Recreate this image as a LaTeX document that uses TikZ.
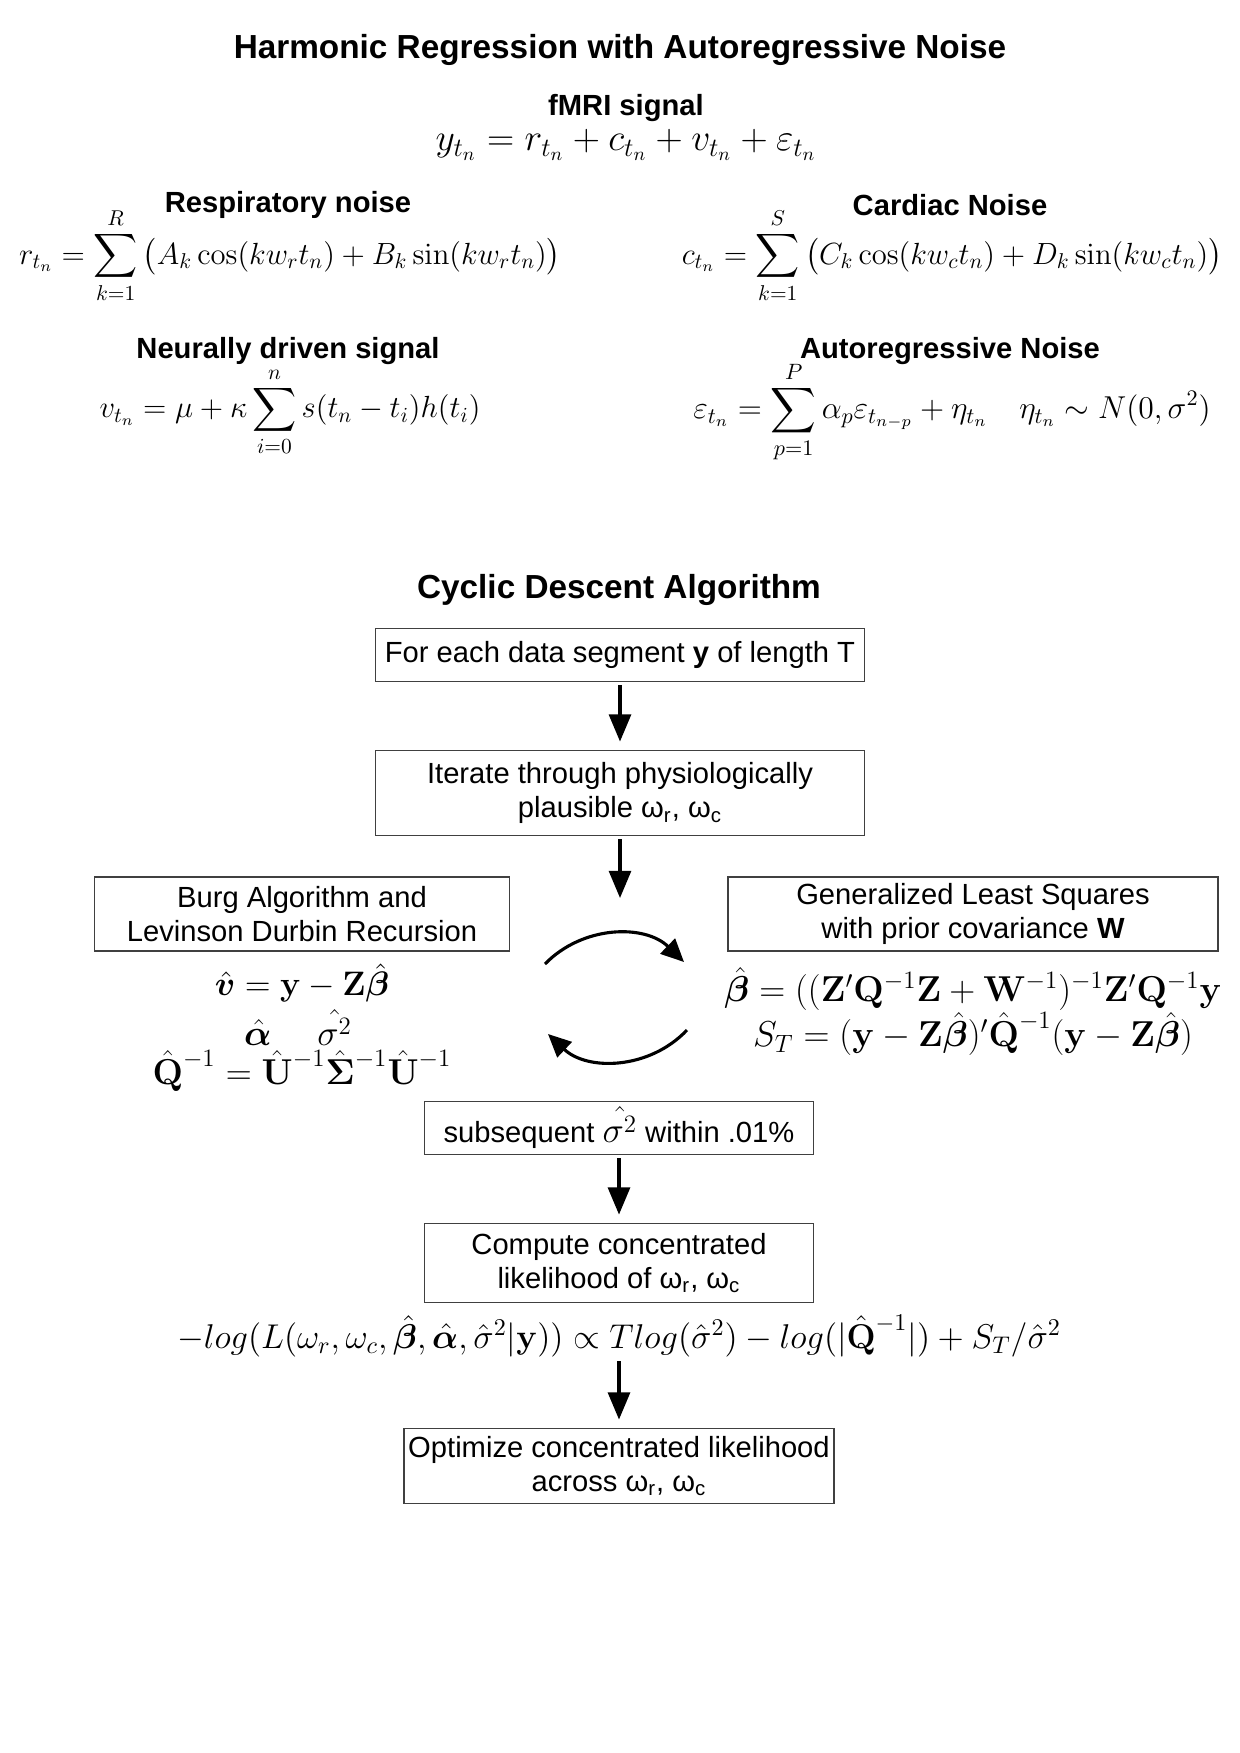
\RequirePackage{fix-cm}
\documentclass[tikz,border=0pt]{standalone}
\usepackage{amsmath,amssymb,bm}
\usepackage[no-math]{fontspec}
\setmainfont{Liberation Sans}
\usetikzlibrary{arrows.meta}

\newcommand{\wrc}{ω\textsubscript{r}, ω\textsubscript{c}}
\newcommand{\inv}{^{\raisebox{0.15em}{$\scriptstyle -1$}}}
\newcommand{\Qh}{\hat{\mathbf{Q}}}

\begin{document}
\begin{tikzpicture}[x=0.48pt,y=-0.48pt,
  head/.style={font=\fontsize{14}{17}\selectfont\bfseries},
  bighead/.style={font=\fontsize{16}{19}\selectfont\bfseries},
  eqn/.style={font=\fontsize{17.28}{20}\selectfont,inner sep=0pt},
  sumeqn/.style={font=\fontsize{14.7}{18}\selectfont,inner sep=0pt},
  stepbox/.style={draw=black!75,line width=0.6pt,align=center,font=\fontsize{14}{16.5}\selectfont,inner sep=2pt},
  flow/.style={-{Triangle[length=13pt,width=10.5pt]},line width=1.5pt},
  swap/.style={-{Triangle[length=11pt,width=10pt]},line width=1.5pt}]
  \useasboundingbox (0,0) rectangle (1240,1753);
  % modelo
  \node[bighead] (title) at (620,50) {Harmonic Regression with Autoregressive Noise};
  \node[head] (fmri) at (626,108) {fMRI signal};
  \node[eqn,font=\fontsize{18.1}{21}\selectfont] (yeq) at (626,145) {$y_{t_n} = r_{t_n} + c_{t_n} + v_{t_n} + \varepsilon_{t_n}$};
  \node[head] (resp) at (288,205) {Respiratory noise};
  \node[sumeqn] (req) at (290,256) {$\displaystyle r_{t_n} = \sum_{k=1}^{R}\big(A_k\cos(kw_rt_n)+B_k\sin(kw_rt_n)\big)$};
  \node[head] (card) at (950,205) {Cardiac Noise};
  \node[sumeqn] (ceq) at (952,256) {$\displaystyle c_{t_n} = \sum_{k=1}^{S}\big(C_k\cos(kw_ct_n)+D_k\sin(kw_ct_n)\big)$};
  \node[head] (neur) at (288,351) {Neurally driven signal};
  \node[sumeqn] (veq) at (290,412) {$\displaystyle v_{t_n} = \mu+\kappa\sum_{i=0}^{n}s(t_n-t_i)h(t_i)$};
  \node[head] (arn) at (950,351) {Autoregressive Noise};
  \node[sumeqn,font=\fontsize{15.2}{18}\selectfont] (aeq) at (952,412) {$\displaystyle \varepsilon_{t_n} = \sum_{p=1}^{P}\alpha_p\varepsilon_{t_{n-p}}+\eta_{t_n}\quad \eta_{t_n}\sim N(0,\sigma^2)$};
  % algoritmo
  \node[bighead] (cyc) at (619,590) {Cyclic Descent Algorithm};
  \node[stepbox,minimum width=234.7pt,minimum height=25.4pt] (seg) at (620,655) {For each data segment \textbf{y} of length T};
  \node[stepbox,minimum width=234.7pt,minimum height=40.8pt] (iter) at (620,793) {Iterate through physiologically\\plausible \wrc};
  \coordinate (mid) at (620,898);
  \node[stepbox,minimum width=199.2pt,minimum height=35.5pt] (burg) at (302,914) {Burg Algorithm and\\Levinson Durbin Recursion};
  \node[stepbox,minimum width=235.2pt,minimum height=35.5pt] (gls) at (973,914) {Generalized Least Squares\\with prior covariance \textbf{W}};
  \node[eqn,font=\fontsize{16.3}{19}\selectfont] (vhat) at (302,983) {$\hat{\bm{v}} = \mathbf{y}-\mathbf{Z}\hat{\bm{\beta}}$};
  \node[eqn] (ahat) at (298,1027) {$\hat{\bm{\alpha}}\quad\;\hat{\sigma^2}$};
  \node[eqn] (qhat) at (302,1071) {$\Qh\inv = \hat{\mathbf{U}}\inv\hat{\bm{\Sigma}}\inv\hat{\mathbf{U}}\inv$};
  \node[eqn] (bhat) at (973,989) {$\hat{\bm{\beta}} = ((\mathbf{Z}'\mathbf{Q}^{-1}\mathbf{Z}+\mathbf{W}^{-1})^{-1}\mathbf{Z}'\mathbf{Q}^{-1}\mathbf{y}$};
  \node[eqn] (st) at (973,1034) {$S_T = (\mathbf{y}-\mathbf{Z}\hat{\bm{\beta}})'\Qh\inv(\mathbf{y}-\mathbf{Z}\hat{\bm{\beta}})$};
  \coordinate (ta) at (545,964); \coordinate (tb) at (684,962);
  \coordinate (ba) at (687,1030); \coordinate (bb) at (548,1034);
  \node[stepbox,minimum width=186.7pt,minimum height=25.4pt] (conv) at (619,1128) {subsequent {\fontsize{17.28}{20}\selectfont$\hat{\sigma^2}$} within .01\%};
  \node[stepbox,minimum width=186.7pt,minimum height=37.9pt] (comp) at (619,1263) {Compute concentrated\\likelihood of \wrc};
  \node[eqn,font=\fontsize{16.5}{19}\selectfont] (lik) at (619,1336) {$-log(L(\omega_r,\omega_c,\hat{\bm{\beta}},\hat{\bm{\alpha}},\hat{\sigma}^2|\mathbf{y}))\propto Tlog(\hat{\sigma}^2)-log(|\Qh\inv|)+S_T/\hat{\sigma}^2$};
  \node[stepbox,minimum width=205pt,minimum height=36pt] (opt) at (619,1466) {Optimize concentrated likelihood\\across \wrc};
  % flechas
  \draw[flow,shorten <=1.5pt,shorten >=4pt] (seg) -- (iter);
  \draw[flow,shorten <=1.5pt] (iter) -- (mid);
  \draw[swap] (ta) to[bend left=45] (tb);
  \draw[swap] (ba) to[bend left=45] (bb);
  \draw[flow,shorten <=1.5pt,shorten >=4pt] (conv) -- (comp);
  \draw[flow,shorten <=2pt,shorten >=4pt] (lik) -- (opt);
\end{tikzpicture}
\end{document}
